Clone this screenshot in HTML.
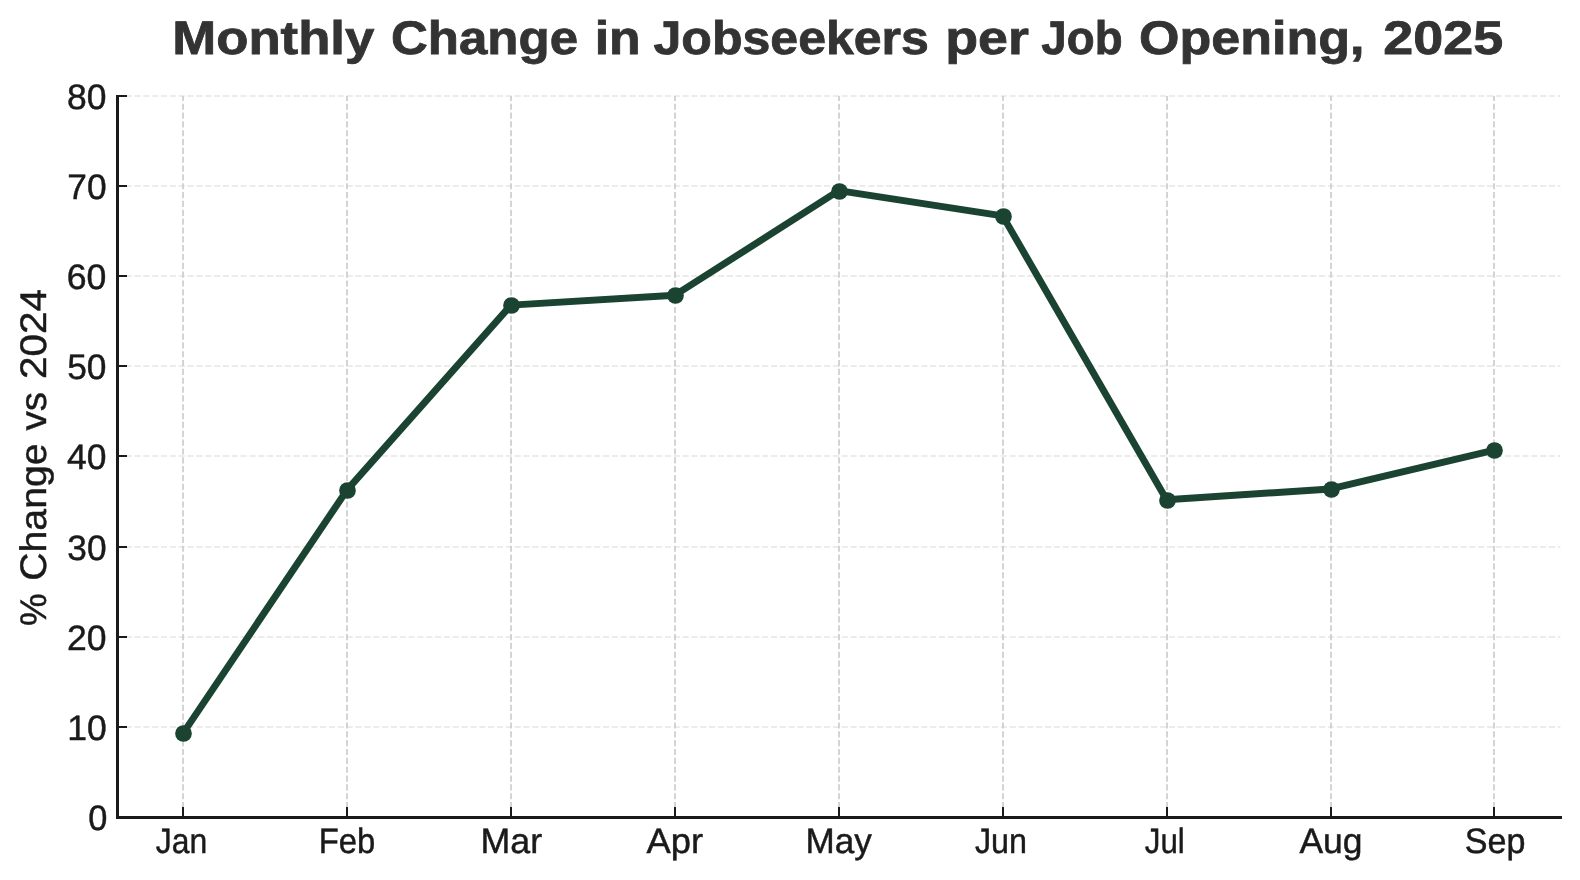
<!DOCTYPE html>
<html><head><meta charset="utf-8"><title>Monthly Change in Jobseekers per Job Opening, 2025</title>
<style>html,body{margin:0;padding:0;background:#fff;width:1580px;height:880px;overflow:hidden}svg{display:block;will-change:transform}text{font-family:"Liberation Sans",sans-serif;text-rendering:geometricPrecision}</style></head><body>
<svg width="1580" height="880" viewBox="0 0 1580 880">
<rect width="1580" height="880" fill="#ffffff"/>
<g stroke="#e6e6e6" stroke-width="1.67" stroke-dasharray="6.17 2.67" fill="none">
<line x1="116.8" y1="727" x2="1560.4" y2="727"/>
<line x1="116.8" y1="637" x2="1560.4" y2="637"/>
<line x1="116.8" y1="547" x2="1560.4" y2="547"/>
<line x1="116.8" y1="456" x2="1560.4" y2="456"/>
<line x1="116.8" y1="366" x2="1560.4" y2="366"/>
<line x1="116.8" y1="276" x2="1560.4" y2="276"/>
<line x1="116.8" y1="186" x2="1560.4" y2="186"/>
<line x1="116.8" y1="96" x2="1560.4" y2="96"/>
</g>
<g stroke="#cccccc" stroke-width="1.67" stroke-dasharray="6.17 2.67" fill="none">
<line x1="183" y1="817" x2="183" y2="96"/>
<line x1="347" y1="817" x2="347" y2="96"/>
<line x1="511" y1="817" x2="511" y2="96"/>
<line x1="675" y1="817" x2="675" y2="96"/>
<line x1="839" y1="817" x2="839" y2="96"/>
<line x1="1003" y1="817" x2="1003" y2="96"/>
<line x1="1167" y1="817" x2="1167" y2="96"/>
<line x1="1331" y1="817" x2="1331" y2="96"/>
<line x1="1494" y1="817" x2="1494" y2="96"/>
</g>
<g fill="#1a1a1a">
<rect x="116" y="95" width="3" height="724"/>
<rect x="116" y="816" width="1446" height="3"/>
<rect x="182" y="807" width="2" height="9"/>
<rect x="346" y="807" width="2" height="9"/>
<rect x="510" y="807" width="2" height="9"/>
<rect x="674" y="807" width="2" height="9"/>
<rect x="838" y="807" width="2" height="9"/>
<rect x="1002" y="807" width="2" height="9"/>
<rect x="1166" y="807" width="2" height="9"/>
<rect x="1330" y="807" width="2" height="9"/>
<rect x="1493" y="807" width="2" height="9"/>
<rect x="119" y="726" width="8" height="2"/>
<rect x="119" y="636" width="8" height="2"/>
<rect x="119" y="546" width="8" height="2"/>
<rect x="119" y="455" width="8" height="2"/>
<rect x="119" y="365" width="8" height="2"/>
<rect x="119" y="275" width="8" height="2"/>
<rect x="119" y="185" width="8" height="2"/>
<rect x="119" y="95" width="8" height="2"/>
</g>
<polyline points="183.20,733.18 347.10,489.85 511.00,305.09 674.90,295.18 838.80,190.63 1002.70,215.87 1166.60,499.76 1330.50,488.95 1494.40,450.19" fill="none" stroke="#1b4332" stroke-width="6.94" stroke-linejoin="round" stroke-linecap="round"/>
<g fill="#1b4332">
<circle cx="183.50" cy="733.50" r="8.33"/>
<circle cx="347.50" cy="490.50" r="8.33"/>
<circle cx="511.50" cy="305.50" r="8.33"/>
<circle cx="675.50" cy="295.50" r="8.33"/>
<circle cx="839.50" cy="191.50" r="8.33"/>
<circle cx="1003.50" cy="216.50" r="8.33"/>
<circle cx="1167.50" cy="500.50" r="8.33"/>
<circle cx="1331.50" cy="489.50" r="8.33"/>
<circle cx="1494.50" cy="450.50" r="8.33"/>
</g>
<text x="172.24" y="53.95" font-size="47.10" fill="#333333" textLength="202.13" lengthAdjust="spacingAndGlyphs" font-weight="bold" stroke="#333333" stroke-width="0.80">Monthly</text>
<text x="391.03" y="53.95" font-size="47.10" fill="#333333" textLength="187.01" lengthAdjust="spacingAndGlyphs" font-weight="bold" stroke="#333333" stroke-width="0.80">Change</text>
<text x="594.68" y="53.95" font-size="47.10" fill="#333333" textLength="45.94" lengthAdjust="spacingAndGlyphs" font-weight="bold" stroke="#333333" stroke-width="0.80">in</text>
<text x="653.53" y="53.95" font-size="47.10" fill="#333333" textLength="275.40" lengthAdjust="spacingAndGlyphs" font-weight="bold" stroke="#333333" stroke-width="0.80">Jobseekers</text>
<text x="945.27" y="53.95" font-size="47.10" fill="#333333" textLength="83.71" lengthAdjust="spacingAndGlyphs" font-weight="bold" stroke="#333333" stroke-width="0.80">per</text>
<text x="1041.33" y="53.95" font-size="47.10" fill="#333333" textLength="81.28" lengthAdjust="spacingAndGlyphs" font-weight="bold" stroke="#333333" stroke-width="0.80">Job</text>
<text x="1139.04" y="53.95" font-size="47.10" fill="#333333" textLength="225.36" lengthAdjust="spacingAndGlyphs" font-weight="bold" stroke="#333333" stroke-width="0.80">Opening,</text>
<text x="1383.34" y="53.95" font-size="47.10" fill="#333333" textLength="119.84" lengthAdjust="spacingAndGlyphs" font-weight="bold" stroke="#333333" stroke-width="0.80">2025</text>
<text x="88.22" y="830.05" font-size="35.30" fill="#1a1a1a" textLength="19.12" lengthAdjust="spacingAndGlyphs" stroke="#1a1a1a" stroke-width="0.45">0</text>
<text x="67.17" y="740.05" font-size="35.30" fill="#1a1a1a" textLength="39.46" lengthAdjust="spacingAndGlyphs" stroke="#1a1a1a" stroke-width="0.45">10</text>
<text x="67.10" y="650.05" font-size="35.30" fill="#1a1a1a" textLength="39.55" lengthAdjust="spacingAndGlyphs" stroke="#1a1a1a" stroke-width="0.45">20</text>
<text x="67.36" y="560.05" font-size="35.30" fill="#1a1a1a" textLength="39.23" lengthAdjust="spacingAndGlyphs" stroke="#1a1a1a" stroke-width="0.45">30</text>
<text x="67.11" y="469.05" font-size="35.30" fill="#1a1a1a" textLength="39.42" lengthAdjust="spacingAndGlyphs" stroke="#1a1a1a" stroke-width="0.45">40</text>
<text x="67.19" y="379.05" font-size="35.30" fill="#1a1a1a" textLength="39.32" lengthAdjust="spacingAndGlyphs" stroke="#1a1a1a" stroke-width="0.45">50</text>
<text x="66.77" y="289.05" font-size="35.30" fill="#1a1a1a" textLength="39.68" lengthAdjust="spacingAndGlyphs" stroke="#1a1a1a" stroke-width="0.45">60</text>
<text x="67.29" y="199.05" font-size="35.30" fill="#1a1a1a" textLength="39.26" lengthAdjust="spacingAndGlyphs" stroke="#1a1a1a" stroke-width="0.45">70</text>
<text x="66.94" y="109.05" font-size="35.30" fill="#1a1a1a" textLength="39.43" lengthAdjust="spacingAndGlyphs" stroke="#1a1a1a" stroke-width="0.45">80</text>
<text x="155.73" y="852.60" font-size="35.30" fill="#1a1a1a" textLength="51.42" lengthAdjust="spacingAndGlyphs" stroke="#1a1a1a" stroke-width="0.45">Jan</text>
<text x="318.74" y="852.60" font-size="35.30" fill="#1a1a1a" textLength="56.59" lengthAdjust="spacingAndGlyphs" stroke="#1a1a1a" stroke-width="0.45">Feb</text>
<text x="480.51" y="852.60" font-size="35.30" fill="#1a1a1a" textLength="61.60" lengthAdjust="spacingAndGlyphs" stroke="#1a1a1a" stroke-width="0.45">Mar</text>
<text x="646.54" y="852.60" font-size="35.30" fill="#1a1a1a" textLength="56.61" lengthAdjust="spacingAndGlyphs" stroke="#1a1a1a" stroke-width="0.45">Apr</text>
<text x="805.53" y="852.60" font-size="35.30" fill="#1a1a1a" textLength="66.35" lengthAdjust="spacingAndGlyphs" stroke="#1a1a1a" stroke-width="0.45">May</text>
<text x="974.93" y="852.60" font-size="35.30" fill="#1a1a1a" textLength="52.01" lengthAdjust="spacingAndGlyphs" stroke="#1a1a1a" stroke-width="0.45">Jun</text>
<text x="1144.84" y="852.60" font-size="35.30" fill="#1a1a1a" textLength="39.95" lengthAdjust="spacingAndGlyphs" stroke="#1a1a1a" stroke-width="0.45">Jul</text>
<text x="1299.45" y="852.60" font-size="35.30" fill="#1a1a1a" textLength="63.05" lengthAdjust="spacingAndGlyphs" stroke="#1a1a1a" stroke-width="0.45">Aug</text>
<text x="1464.65" y="852.60" font-size="35.30" fill="#1a1a1a" textLength="60.75" lengthAdjust="spacingAndGlyphs" stroke="#1a1a1a" stroke-width="0.45">Sep</text>
<text transform="translate(45.90 379.31) rotate(-90)" x="0.23" y="0" font-size="37.00" fill="#1a1a1a" textLength="90.02" lengthAdjust="spacingAndGlyphs" stroke="#1a1a1a" stroke-width="0.45">2024</text>
<text transform="translate(45.90 430.79) rotate(-90)" x="0.23" y="0" font-size="37.00" fill="#1a1a1a" textLength="38.57" lengthAdjust="spacingAndGlyphs" stroke="#1a1a1a" stroke-width="0.45">vs</text>
<text transform="translate(45.90 581.02) rotate(-90)" x="0.23" y="0" font-size="37.00" fill="#1a1a1a" textLength="137.45" lengthAdjust="spacingAndGlyphs" stroke="#1a1a1a" stroke-width="0.45">Change</text>
<text transform="translate(45.90 626.18) rotate(-90)" x="0.23" y="0" font-size="37.00" fill="#1a1a1a" textLength="32.58" lengthAdjust="spacingAndGlyphs" stroke="#1a1a1a" stroke-width="0.45">%</text>
</svg>
</body></html>
